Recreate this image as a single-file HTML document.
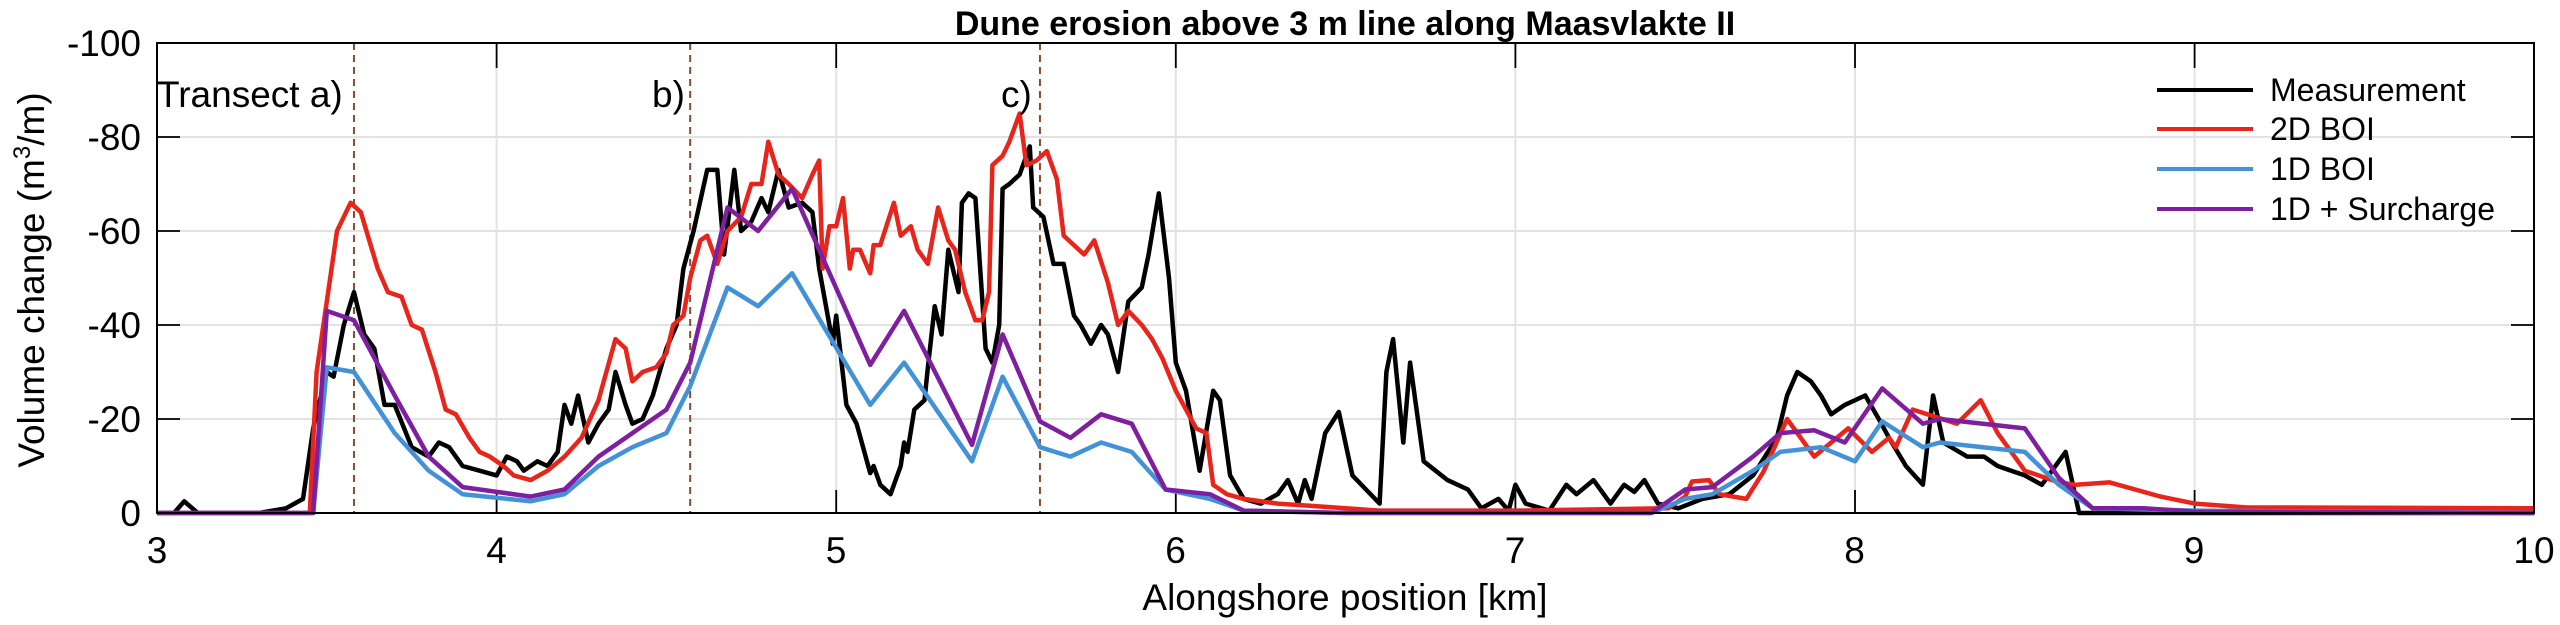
<!DOCTYPE html>
<html><head><meta charset="utf-8"><style>
html,body{margin:0;padding:0;background:#fff;}
svg{display:block;}
text{font-family:"Liberation Sans",Arial,sans-serif;fill:#000;}
</style></head><body>
<svg id="s" width="2560" height="625" viewBox="0 0 2560 625" xmlns="http://www.w3.org/2000/svg">
<g id="grid" stroke="#e2e2e2" stroke-width="2"></g>
<g id="ticks" stroke="#000" stroke-width="1.8"></g>
<g id="vlines" stroke="#8b4a2b" stroke-width="2" stroke-dasharray="7,5"></g>
<line x1="315" y1="513" x2="2534" y2="513" stroke="#000" stroke-width="2" stroke-dasharray="6,3"/>
<g id="series" fill="none" stroke-width="4.5" stroke-linejoin="round"></g>
<rect x="157" y="43" width="2377" height="470" fill="none" stroke="#000" stroke-width="2"/>
<text x="1345" y="35" font-size="34" font-weight="bold" text-anchor="middle">Dune erosion above 3 m line along Maasvlakte II</text>
<g font-size="37" text-anchor="end">
<text x="141" y="56">-100</text><text x="141" y="150">-80</text><text x="141" y="244">-60</text>
<text x="141" y="338">-40</text><text x="141" y="432">-20</text><text x="141" y="526">0</text>
</g>
<g font-size="37" text-anchor="middle">
<text x="157" y="563">3</text><text x="496.5" y="563">4</text><text x="836" y="563">5</text><text x="1175.5" y="563">6</text>
<text x="1515" y="563">7</text><text x="1854.5" y="563">8</text><text x="2194" y="563">9</text><text x="2534" y="563">10</text>
</g>
<text x="1345" y="610" font-size="37" text-anchor="middle">Alongshore position [km]</text>
<text transform="translate(44,280) rotate(-90)" font-size="37" text-anchor="middle">Volume change (m<tspan font-size="24" dy="-14">3</tspan><tspan dy="14">/m)</tspan></text>
<g font-size="37">
<text x="157" y="107">Transect a)</text>
<text x="652" y="107">b)</text>
<text x="1001" y="107">c)</text>
</g>
<g stroke-width="4">
<line x1="2157" y1="90" x2="2253" y2="90" stroke="#000"/>
<line x1="2157" y1="129" x2="2253" y2="129" stroke="#e8251b"/>
<line x1="2157" y1="169" x2="2253" y2="169" stroke="#4392d8"/>
<line x1="2157" y1="209" x2="2253" y2="209" stroke="#7e1fa0"/>
</g>
<g font-size="32">
<text x="2270" y="101">Measurement</text>
<text x="2270" y="140">2D BOI</text>
<text x="2270" y="180">1D BOI</text>
<text x="2270" y="220">1D + Surcharge</text>
</g>
</svg>
<script>
var NS="http://www.w3.org/2000/svg";
function X(k){return 157+339.6*(k-3);}
function Y(m){return 513-m*4.7;}
function ln(g,a,b,c,d){var l=document.createElementNS(NS,"line");l.setAttribute("x1",a);l.setAttribute("y1",b);l.setAttribute("x2",c);l.setAttribute("y2",d);document.getElementById(g).appendChild(l);}
for(var k=4;k<=9;k++){ln("grid",X(k),43,X(k),513);ln("ticks",X(k),43,X(k),68);ln("ticks",X(k),513,X(k),490);}
for(var m=20;m<=80;m+=20){ln("grid",157,Y(m),2534,Y(m));ln("ticks",157,Y(m),180,Y(m));ln("ticks",2534,Y(m),2511,Y(m));}
[3.58,4.57,5.6].forEach(function(k){ln("vlines",X(k),43,X(k),513);});
function P(d,c){var s="";for(var i=0;i<d.length;i+=2){s+=(i?" L":"M")+X(d[i]).toFixed(1)+","+Y(d[i+1]).toFixed(1);}var p=document.createElementNS(NS,"path");p.setAttribute("d",s);p.setAttribute("stroke",c);document.getElementById("series").appendChild(p);}
var black=[3,0,3.05,0,3.08,2.5,3.12,0,3.3,0,3.38,1,3.43,3,3.46,18,3.5,30,3.52,29,3.55,40,3.58,47,3.61,38,3.64,35,3.67,23,3.7,23,3.75,14,3.8,12,3.83,15,3.86,14,3.9,10,3.95,9,4.0,8,4.03,12,4.06,11,4.08,9,4.12,11,4.15,10,4.18,13,4.2,23,4.22,19,4.24,25,4.27,15,4.3,19,4.33,22,4.35,30,4.38,23,4.4,19,4.43,20,4.46,25,4.5,35,4.53,40,4.55,52,4.58,60,4.62,73,4.65,73,4.67,55,4.7,73,4.72,60,4.75,62,4.78,67,4.8,64,4.83,73,4.86,65,4.9,66,4.93,64,4.95,52,4.99,36,5.0,42,5.03,23,5.06,19,5.1,8.5,5.11,10,5.13,6,5.16,4,5.19,10,5.2,15,5.21,13,5.23,22,5.26,24,5.27,31,5.29,44,5.31,38,5.33,56,5.36,47,5.37,66,5.39,68,5.41,67,5.44,35,5.46,32,5.48,40,5.49,69,5.51,70,5.54,72,5.57,78,5.58,65,5.61,63,5.64,53,5.67,53,5.7,42,5.72,40,5.75,36,5.78,40,5.8,38,5.83,30,5.86,45,5.9,48,5.92,55,5.95,68,5.98,50,6.0,32,6.03,26,6.07,9,6.11,26,6.13,24,6.16,8,6.2,3,6.25,2,6.3,4,6.33,7,6.36,2,6.38,7,6.4,3,6.44,17,6.48,21.5,6.52,8,6.56,5,6.6,2,6.62,30,6.64,37,6.67,15,6.69,32,6.73,11,6.8,7,6.86,5,6.9,1,6.95,3,6.98,0.5,7.0,6,7.03,2,7.1,0.5,7.15,6,7.18,4,7.23,7,7.28,2,7.32,6,7.35,4.5,7.38,7,7.42,2,7.48,1,7.55,3,7.63,4,7.7,8,7.77,16,7.8,25,7.83,30,7.87,28,7.9,25,7.93,21,7.97,23,8.03,25,8.07,20,8.1,16,8.15,10,8.2,6,8.23,25,8.26,15,8.33,12,8.38,12,8.42,10,8.46,9,8.5,8,8.55,6,8.62,13,8.66,0,10,0];
var red=[3,0,3.45,0,3.47,30,3.5,45,3.53,60,3.57,66,3.6,64,3.65,52,3.68,47,3.72,46,3.75,40,3.78,39,3.82,30,3.85,22,3.88,21,3.92,16,3.95,13,3.98,12,4.02,10,4.05,8,4.1,7,4.15,9,4.2,12,4.25,16,4.3,24,4.35,37,4.38,35,4.4,28,4.43,30,4.47,31,4.5,34,4.52,40,4.55,42,4.57,50,4.6,58,4.62,59,4.65,53,4.68,60,4.72,63,4.75,70,4.78,70,4.8,79,4.83,72,4.86,70,4.9,67,4.93,72,4.95,75,4.96,52,4.98,61,5.0,61,5.02,67,5.04,52,5.05,56,5.07,56,5.1,51,5.11,57,5.13,57,5.17,66,5.19,59,5.22,61,5.24,56,5.27,53,5.3,65,5.33,58,5.35,56,5.38,47,5.41,41,5.43,41,5.45,47,5.46,74,5.49,76,5.51,79,5.54,85,5.56,74,5.59,75,5.62,77,5.65,71,5.67,59,5.7,57,5.73,55,5.76,58,5.8,49,5.83,40,5.86,43,5.9,40,5.93,37,5.96,33,6.0,26,6.03,22,6.06,18,6.09,17,6.11,6,6.15,4,6.2,3,6.3,2,6.4,1.5,6.6,0.5,7.0,0.5,7.45,1,7.5,3.5,7.52,6.7,7.57,7,7.6,4,7.68,3,7.73,8.7,7.8,20,7.88,12,7.98,18,8.05,13,8.1,16,8.12,14,8.17,22,8.3,19,8.37,24,8.42,17,8.5,9,8.6,6.5,8.65,6,8.75,6.5,8.9,3.5,9.0,2,9.15,1.2,10,1];
var blue=[3,0,3.46,0,3.5,31,3.58,30,3.7,17,3.8,9,3.9,4,4.1,2.5,4.2,4,4.3,10,4.4,14,4.5,17,4.57,27,4.68,48,4.77,44,4.87,51,5.1,23,5.2,32,5.4,11,5.49,29,5.6,14,5.69,12,5.78,15,5.87,13,5.97,5,6.1,3,6.2,0.5,6.5,0,7.4,0,7.5,3,7.58,4,7.7,9,7.78,13,7.9,14,8.0,11,8.08,19.5,8.2,14,8.25,15,8.5,13,8.6,6,8.7,1,9,0.5,10,0];
var purple=[3,0,3.46,0,3.5,43,3.58,41,3.7,25,3.8,12,3.9,5.5,4.1,3.5,4.2,5,4.3,12,4.4,17,4.5,22,4.57,32,4.68,65,4.77,60,4.87,69,5.1,31.5,5.2,43,5.4,14.5,5.49,38,5.6,19.5,5.69,16,5.78,21,5.87,19,5.97,5,6.1,4,6.2,0.5,6.5,0,7.4,0,7.5,5,7.58,5.5,7.7,12,7.78,17,7.88,17.6,7.97,15,8.08,26.5,8.2,19,8.25,20,8.5,18,8.6,7.5,8.7,1,8.85,1,9,0.3,10,0];
P(black,"#000");P(red,"#e8251b");P(blue,"#4392d8");P(purple,"#7e1fa0");
</script>
</body></html>
